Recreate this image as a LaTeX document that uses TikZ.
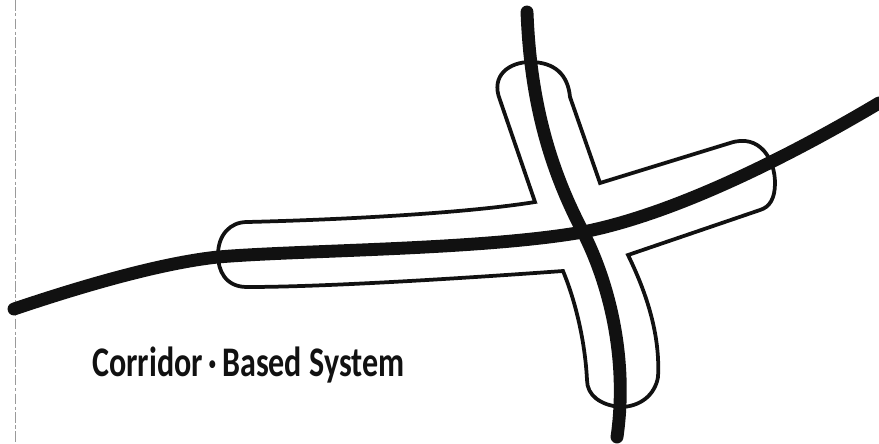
\documentclass[tikz,border=0pt]{standalone}
\usepackage{fontspec}
\setmainfont{Carlito}
\usepackage{tikz}
\usetikzlibrary{calc}
\definecolor{ink}{HTML}{111111}
\definecolor{scangray}{HTML}{9a9a9a}
\tikzset{
  road/.style={ink,line width=11pt,line cap=round,line join=round},
  corridor/.style={ink,line width=3.2pt,line join=miter},
  scanedge/.style={scangray,line width=0.8pt,dash pattern=on 9pt off 2pt on 3pt off 2pt}
}
\begin{document}
\begin{tikzpicture}[x=0.03cm,y=-0.03cm]
  \useasboundingbox (0,0) rectangle (879,443);
  \coordinate (roadW) at (14,309);
  \coordinate (roadE) at (879,103);
  \coordinate (roadN) at (527,12);
  \coordinate (roadS) at (617,437);
  \coordinate (X) at (583,232);
  \draw[scanedge] (15,0) -- (15,443);
  \draw[corridor] (247,222) .. controls (330,220) and (460,214) .. (535,202)
    -- (500,100) .. controls (490,75) and (510,62) .. (530,62)
    .. controls (555,62) and (568,75) .. (570,97)
    -- (600,183) -- (730,143) .. controls (760,133) and (775,160) .. (775,183)
    .. controls (775,198) and (770,207) .. (760,210)
    -- (628,255) .. controls (650,300) and (660,340) .. (658,377)
    .. controls (655,395) and (640,407) .. (620,407)
    .. controls (600,405) and (587,395) .. (587,380)
    .. controls (585,340) and (575,300) .. (563,271)
    .. controls (480,277) and (330,287) .. (247,287)
    .. controls (225,287) and (218,270) .. (218,255)
    .. controls (218,235) and (230,222) .. cycle;
  \draw[road] (roadW) .. controls (100,280) and (170,262) .. (218,257)
    .. controls (300,250) and (480,250) .. (X)
    .. controls (680,213) and (800,150) .. (roadE);
  \draw[road] (roadN) .. controls (530,90) and (545,160) .. (X)
    .. controls (610,285) and (628,360) .. (roadS);
  \node[ink,anchor=base west,inner sep=0pt] (title) at (92,376)
    {\scalebox{0.76}[1]{\fontsize{36}{42}\selectfont\bfseries Corridor\,·\,Based System}};
\end{tikzpicture}
\end{document}
